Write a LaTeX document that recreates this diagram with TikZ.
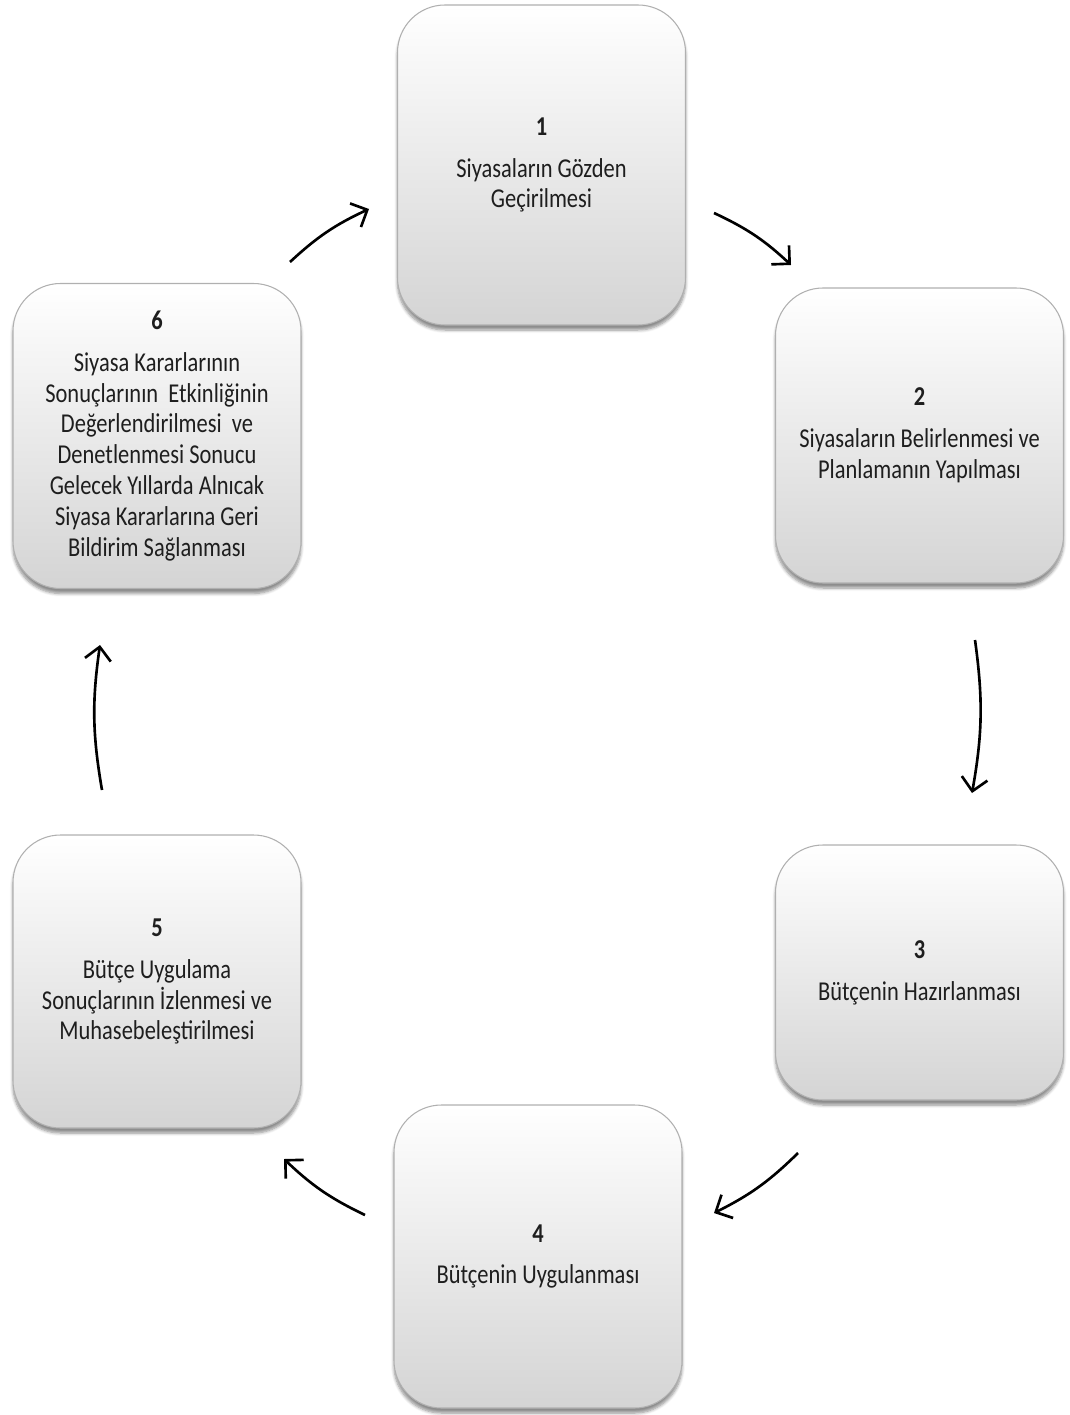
\documentclass[tikz,border=0pt]{standalone}
\usepackage{fontspec}
\newfontfamily\boxfont[FakeStretch=0.825]{Carlito}
\usetikzlibrary{arrows.meta, shadows.blur}
\definecolor{boxtext}{HTML}{1e1e1e}
\definecolor{boxedge}{HTML}{b0b0b0}
\definecolor{boxbottom}{HTML}{d4d4d4}

\begin{document}
\begin{tikzpicture}[
		stage/.style={draw=boxedge, line width=0.6pt, top color=white, middle color=white, bottom color=boxbottom, rounded corners=0.95cm, minimum width=5.76cm, minimum height=#1, align=center, text=boxtext, font=\boxfont\fontsize{15.5}{17.6}\selectfont, blur shadow={shadow xshift=0pt, shadow yshift=-0.1cm, shadow blur steps=6, shadow opacity=45}},
		arrow/.style={-{Straight Barb[length=2.6mm, width=5.2mm]}, line width=1.5pt, bend left=9}
	]
	\useasboundingbox (0,0) rectangle (21.4,-28.3);

	% Top
	\node[stage=6.4cm] (review) at (10.83, -3.3) {\textbf{1}\\[0.22cm] Siyasaların Gözden\\Geçirilmesi};

	% Right side
	\node[stage=5.9cm] (planning) at (18.39, -8.71) {\textbf{2}\\[0.22cm] Siyasaların Belirlenmesi ve\\Planlamanın Yapılması};
	\node[stage=5.1cm] (preparation) at (18.39, -19.45) {\textbf{3}\\[0.22cm] Bütçenin Hazırlanması};

	% Bottom
	\node[stage=6.06cm] (execution) at (10.76, -25.13) {\textbf{4}\\[0.22cm] Bütçenin Uygulanması};

	% Left side
	\node[stage=5.86cm] (monitoring) at (3.14, -19.63) {\textbf{5}\\[0.22cm] Bütçe Uygulama\\Sonuçlarının İzlenmesi ve\\Muhasebeleştirilmesi};
	\node[stage=6.1cm] (feedback) at (3.14, -8.72) {\textbf{6}\\[0.22cm] Siyasa Kararlarının\\Sonuçlarının~ Etkinliğinin\\Değerlendirilmesi~ ve\\Denetlenmesi Sonucu\\Gelecek Yıllarda Alnıcak\\Siyasa Kararlarına Geri\\Bildirim Sağlanması};

	% Arrow ends
	\coordinate (feedback-out) at (5.8, -5.24);
	\coordinate (review-in) at (7.38, -4.18);
	\coordinate (review-out) at (14.28, -4.26);
	\coordinate (planning-in) at (15.82, -5.3);
	\coordinate (planning-out) at (19.5, -12.8);
	\coordinate (preparation-in) at (19.44, -15.86);
	\coordinate (preparation-out) at (15.96, -23.06);
	\coordinate (execution-in) at (14.28, -24.26);
	\coordinate (execution-out) at (7.3, -24.3);
	\coordinate (monitoring-in) at (5.68, -23.18);
	\coordinate (monitoring-out) at (2.04, -15.8);
	\coordinate (feedback-in) at (2.0, -12.9);

	\draw[arrow] (feedback-out) to (review-in);
	\draw[arrow] (review-out) to (planning-in);
	\draw[arrow] (planning-out) to (preparation-in);
	\draw[arrow] (preparation-out) to (execution-in);
	\draw[arrow] (execution-out) to (monitoring-in);
	\draw[arrow] (monitoring-out) to (feedback-in);
\end{tikzpicture}
\end{document}
